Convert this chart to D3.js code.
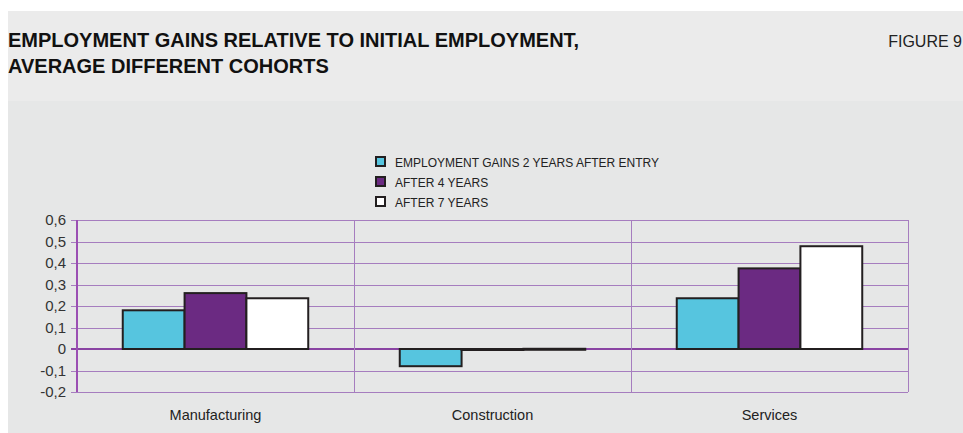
<!DOCTYPE html>
<html>
<head>
<meta charset="utf-8">
<script src="https://cdn.jsdelivr.net/npm/d3@7"></script>
<style>
  body { margin: 0; background: #fff; }
  svg text { font-family: "Liberation Sans", Arial, sans-serif; }
</style>
</head>
<body>
<svg id="chart" width="963" height="433"></svg>
<script>
// data
const sectors = ['Manufacturing', 'Construction', 'Services']
const seriesNames = ['EMPLOYMENT GAINS 2 YEARS AFTER ENTRY', 'AFTER 4 YEARS', 'AFTER 7 YEARS']
const gains2y = [0.18, -0.08, 0.236]
const gains4y = [0.26, -0.004, 0.375]
const gains7y = [0.236, 0.001, 0.478]
const yTicks = [-0.2, -0.1, 0, 0.1, 0.2, 0.3, 0.4, 0.5, 0.6]
const colors = ['#56c5df', '#6b2a82', '#ffffff']

const series = [gains2y, gains4y, gains7y]

let svg = d3.select('#chart')

// background panels
svg.append('rect').attr('x', 8).attr('y', 11).attr('width', 955).attr('height', 422).attr('fill', '#e6e7e7')
svg.append('rect').attr('x', 8).attr('y', 11).attr('width', 955).attr('height', 90).attr('fill', '#ebebeb')

svg.append('text').attr('x', 8).attr('y', 47)
    .attr('font-size', 20).attr('font-weight', 'bold').attr('fill', '#111')
    .text('EMPLOYMENT GAINS RELATIVE TO INITIAL EMPLOYMENT,')
svg.append('text').attr('x', 8).attr('y', 73)
    .attr('font-size', 20).attr('font-weight', 'bold').attr('fill', '#111')
    .text('AVERAGE DIFFERENT COHORTS')
svg.append('text').attr('x', 962).attr('y', 47).attr('text-anchor', 'end')
    .attr('font-size', 16).attr('fill', '#222')
    .text('FIGURE 9')

let margin = {left: 77, right: 908, top: 220, bottom: 392}

let x = d3.scaleBand().domain(sectors).range([margin.left, margin.right])
let xInner = d3.scaleBand().domain(d3.range(series.length))
    .range([0, x.bandwidth()]).paddingOuter(0.74)
let y = d3.scaleLinear().domain([-0.2, 0.6]).range([margin.bottom, margin.top])

let grid = svg.append('g').attr('shape-rendering', 'crispEdges')
grid.selectAll('line.h').data(yTicks).enter().append('line')
    .attr('x1', margin.left - 6).attr('x2', margin.right)
    .attr('y1', d => Math.round(y(d))).attr('y2', d => Math.round(y(d)))
    .attr('stroke', d => d === 0 ? '#8a44a3' : '#a67dbf')
    .attr('stroke-width', d => d === 0 ? 2 : 1)

// vertical separators
let vx = sectors.map(s => x(s)).concat([margin.right])
grid.selectAll('line.v').data(vx).enter().append('line')
    .attr('x1', d => Math.round(d)).attr('x2', d => Math.round(d))
    .attr('y1', margin.top).attr('y2', margin.bottom)
    .attr('stroke', (d, i) => i === 0 ? '#9b4fb3' : '#a67dbf')
    .attr('stroke-width', (d, i) => i === 0 ? 2 : 1)

// y axis labels
let yAxis = svg.append('g')
    .attr('transform', 'translate(' + (margin.left - 6) + ',0)')
    .call(d3.axisLeft(y).tickValues(yTicks).tickSize(0).tickPadding(5)
        .tickFormat(d => d3.format('.1f')(d).replace('.', ',').replace(/^0,0$/, '0').replace('−', '-')))
yAxis.select('.domain').remove()
yAxis.selectAll('text').attr('font-size', 15).attr('fill', '#333')
    .attr('font-family', '"Liberation Sans", Arial, sans-serif')

// bars
let groups = svg.selectAll('g.sector').data(sectors).enter().append('g')
    .attr('transform', d => 'translate(' + x(d) + ',0)')

groups.selectAll('rect').data((d, i) => series.map((s, k) => ({k, v: s[i]}))).enter().append('rect')
    .attr('x', d => xInner(d.k))
    .attr('y', d => y(Math.max(0, d.v)))
    .attr('width', xInner.bandwidth())
    .attr('height', d => Math.max(1, Math.abs(y(d.v) - y(0))))
    .attr('fill', d => colors[d.k])
    .attr('stroke', '#231f20')
    .attr('stroke-width', 2)

// category labels
svg.append('g').selectAll('text').data(sectors).enter().append('text')
    .attr('x', d => x(d) + x.bandwidth() / 2)
    .attr('y', 420)
    .attr('text-anchor', 'middle')
    .attr('font-size', 14.5).attr('fill', '#222')
    .text(d => d)

// legend
let legend = svg.append('g').selectAll('g').data(seriesNames).enter().append('g')
    .attr('transform', (d, i) => 'translate(376,' + (157 + i * 20) + ')')
legend.append('rect').attr('width', 9).attr('height', 9)
    .attr('fill', (d, i) => colors[i]).attr('stroke', '#231f20').attr('stroke-width', 2)
legend.append('text').attr('x', 19).attr('y', 9.5)
    .attr('font-size', 12).attr('fill', '#222')
    .text(d => d)
</script>
</body>
</html>
